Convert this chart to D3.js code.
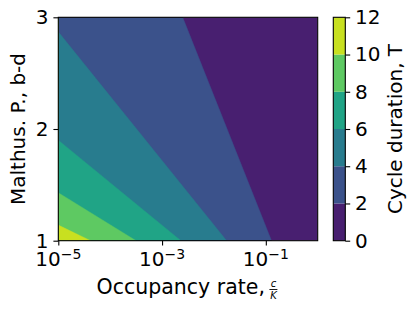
<!DOCTYPE html>
<html>
<head>
<meta charset="utf-8">
<script src="https://cdn.jsdelivr.net/npm/d3@7"></script>
<style>
  body { margin: 0; background: #fff; }
  text { font-family: "DejaVu Sans", sans-serif; fill: #000; }
</style>
</head>
<body>
<div id="chart"></div>
<script>
// contour levels of the cycle duration T
var levels = [0, 2, 4, 6, 8, 10, 12];
var xTicks = [1e-5, 1e-3, 1e-1];
var xExps = ['\u22125', '\u22123', '\u22121'];
var yTicks = [1, 2, 3];

// where each contour line (T = 2, 4, ... 10) meets the plot edges, as [c/K, b-d]
var line2 = [[2.5e-3, 3], [0.129, 1]];
var line4 = [[1e-5, 2.87], [1.76e-2, 1]];
var line6 = [[1e-5, 1.90], [2.31e-3, 1]];
var line8 = [[1e-5, 1.43], [3.16e-4, 1]];
var line10 = [[1e-5, 1.14], [4.2e-5, 1]];
var contourLines = [line2, line4, line6, line8, line10];

var W = 416, H = 313;
var pL = 58.3, pR = 317.7, pT = 17.3, pB = 240.7;
var fs = 20;

var svg = d3.select('#chart').append('svg')
    .attr('width', W)
    .attr('height', H);

var x = d3.scaleLog().domain([1e-5, 1]).range([pL, pR]);
var y = d3.scaleLinear().domain([1, 3]).range([pB, pT]);

var bandColor = function (i) {
    return d3.interpolateViridis((levels[i] + levels[i + 1]) / 2 / 12);
};

svg.append('clipPath').attr('id', 'clip')
    .append('rect')
    .attr('x', pL).attr('y', pT)
    .attr('width', pR - pL).attr('height', pB - pT);

var plot = svg.append('g').attr('clip-path', 'url(#clip)');

// lowest band fills everything, higher bands painted on top
plot.append('rect')
    .attr('x', pL).attr('y', pT)
    .attr('width', pR - pL).attr('height', pB - pT)
    .attr('fill', bandColor(0));

var line = d3.line()
    .x(d => x(d[0]))
    .y(d => y(d[1]));

plot.selectAll('.band')
    .data(contourLines)
    .enter()
    .append('path')
    .attr('class', 'band')
    .attr('d', d => line(d.concat([[1e-5, 1], [1e-5, 3]])) + 'Z')
    .attr('fill', (d, i) => bandColor(i + 1))
    .attr('stroke', (d, i) => bandColor(i + 1))
    .attr('stroke-width', 0.4);

// axes
var yAxis = d3.axisLeft(y)
    .tickValues(yTicks)
    .tickSize(4.9)
    .tickPadding(4.9)
    .tickFormat(d3.format('d'));

var gy = svg.append('g')
    .attr('transform', 'translate(' + pL + ',0)')
    .call(yAxis);
gy.select('.domain').remove();
gy.selectAll('line').attr('stroke', '#000').attr('stroke-width', 1.1);
gy.selectAll('text').style('font-size', fs + 'px').attr('font-family', null);

var xAxis = d3.axisBottom(x)
    .tickValues(xTicks)
    .tickSize(4.9)
    .tickFormat('');

var gx = svg.append('g')
    .attr('transform', 'translate(0,' + pB + ')')
    .call(xAxis);
gx.select('.domain').remove();
gx.selectAll('line').attr('stroke', '#000').attr('stroke-width', 1.1);
gx.selectAll('.tick text').remove();

var xl = svg.selectAll('.xlab')
    .data(xTicks)
    .enter()
    .append('text')
    .attr('class', 'xlab')
    .attr('x', d => x(d))
    .attr('y', 266)
    .attr('text-anchor', 'middle')
    .style('font-size', fs + 'px');
xl.append('tspan').text('10');
xl.append('tspan')
    .attr('dy', -7.5)
    .style('font-size', '14px')
    .text((d, i) => xExps[i]);

svg.append('rect')
    .attr('x', pL).attr('y', pT)
    .attr('width', pR - pL).attr('height', pB - pT)
    .attr('fill', 'none')
    .attr('stroke', '#000')
    .attr('stroke-width', 1.1);

// x label with c/K fraction
var xlab = svg.append('g');
var main = xlab.append('text')
    .attr('x', 0).attr('y', 294)
    .style('font-size', '20.5px')
    .text('Occupancy rate,');
var mainLen = main.node().getComputedTextLength();
var fx = mainLen + 4.5, fw = 8;
xlab.append('text')
    .attr('x', fx + fw / 2).attr('y', 287)
    .attr('text-anchor', 'middle')
    .style('font-size', '10px')
    .style('font-style', 'italic')
    .text('c');
xlab.append('line')
    .attr('x1', fx).attr('x2', fx + fw)
    .attr('y1', 289.5).attr('y2', 289.5)
    .attr('stroke', '#000').attr('stroke-width', 0.9);
xlab.append('text')
    .attr('x', fx + fw / 2).attr('y', 298.5)
    .attr('text-anchor', 'middle')
    .style('font-size', '10px')
    .style('font-style', 'italic')
    .text('K');
xlab.attr('transform', 'translate(' + ((pL + pR) / 2 - (fx + fw) / 2 - 1) + ',0)');

svg.append('text')
    .attr('transform', 'translate(25,' + ((pT + pB) / 2) + ') rotate(-90)')
    .attr('text-anchor', 'middle')
    .style('font-size', fs + 'px')
    .text('Malthus. P., b-d');

// colorbar
var cbL = 333.3, cbR = 345.3;
var cy = d3.scaleLinear().domain([0, 12]).range([pB, pT]);

svg.selectAll('.cb')
    .data(levels.slice(0, -1))
    .enter()
    .append('rect')
    .attr('class', 'cb')
    .attr('x', cbL)
    .attr('y', (d, i) => cy(levels[i + 1]))
    .attr('width', cbR - cbL)
    .attr('height', (d, i) => cy(levels[i]) - cy(levels[i + 1]))
    .attr('fill', (d, i) => bandColor(i));

var cAxis = d3.axisRight(cy)
    .tickValues(levels)
    .tickSize(4.9)
    .tickPadding(4.9)
    .tickFormat(d3.format('d'));

var gc = svg.append('g')
    .attr('transform', 'translate(' + cbR + ',0)')
    .call(cAxis);
gc.select('.domain').remove();
gc.selectAll('line').attr('stroke', '#000').attr('stroke-width', 1.1);
gc.selectAll('text').style('font-size', fs + 'px').attr('font-family', null);

svg.append('rect')
    .attr('x', cbL).attr('y', pT)
    .attr('width', cbR - cbL).attr('height', pB - pT)
    .attr('fill', 'none')
    .attr('stroke', '#000')
    .attr('stroke-width', 1.1);

svg.append('text')
    .attr('transform', 'translate(401.5,' + ((pT + pB) / 2) + ') rotate(-90)')
    .attr('text-anchor', 'middle')
    .style('font-size', fs + 'px')
    .text('Cycle duration, T');
</script>
</body>
</html>
